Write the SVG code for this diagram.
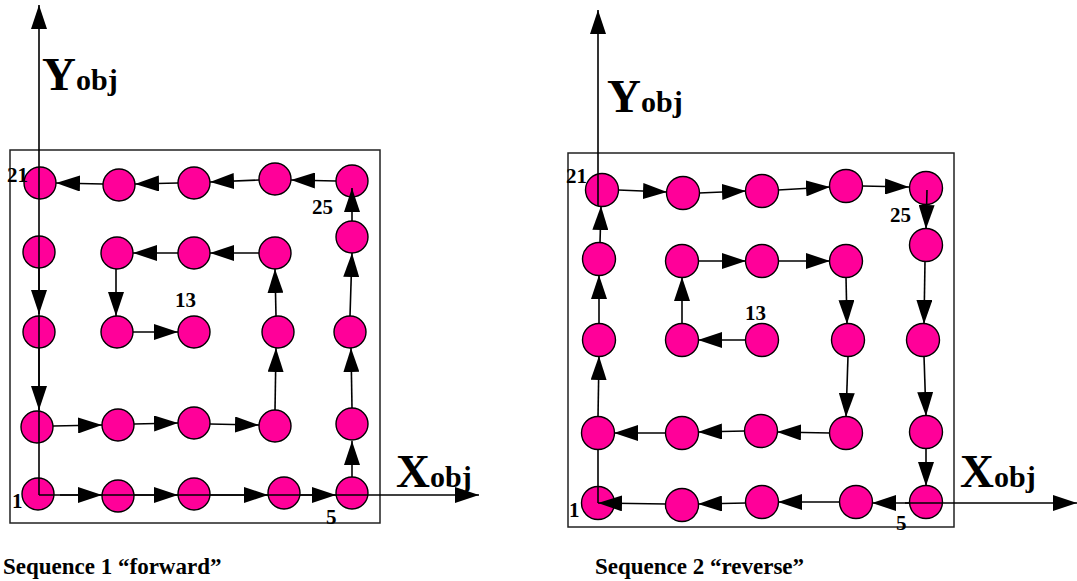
<svg xmlns="http://www.w3.org/2000/svg" width="1077" height="581" viewBox="0 0 1077 581">
<style>
.box{fill:none;stroke:#222;stroke-width:1.5}
.n{fill:#FF0099;stroke:#000;stroke-width:1.4}
.c{stroke:#000;stroke-width:1.6;fill:none}
.a{marker-end:url(#ah)}
.lbl{font-family:"Liberation Serif","Times New Roman",serif;font-weight:bold;font-size:21px;fill:#000}
.ax{font-family:"Liberation Serif","Times New Roman",serif;font-weight:bold;fill:#000}
.cap{font-family:"Liberation Serif","Times New Roman",serif;font-weight:bold;font-size:23px;fill:#000}
</style>
<defs>
<marker id="ah" viewBox="0 0 24 16" refX="24" refY="8" markerWidth="24" markerHeight="16" markerUnits="userSpaceOnUse" orient="auto">
<path d="M0,0 L24,8 L0,16 z" fill="#000"/>
</marker>
</defs>
<rect class="box" x="10" y="150" width="370" height="373"/>
<rect class="box" x="568" y="153" width="386" height="374"/>
<g id="left-nodes">
<g id="L1"><circle class="n" cx="38" cy="494" r="16"/></g>
<g id="L2"><circle class="n" cx="118" cy="496" r="16"/></g>
<g id="L3"><circle class="n" cx="194" cy="494" r="16"/></g>
<g id="L4"><circle class="n" cx="284" cy="493" r="16"/></g>
<g id="L5"><circle class="n" cx="352" cy="493" r="16"/></g>
<g id="L6"><circle class="n" cx="37" cy="427" r="16"/></g>
<g id="L7"><circle class="n" cx="118" cy="425" r="16"/></g>
<g id="L8"><circle class="n" cx="194" cy="423" r="16"/></g>
<g id="L9"><circle class="n" cx="275" cy="426" r="16"/></g>
<g id="L10"><circle class="n" cx="352" cy="424" r="16"/></g>
<g id="L11"><circle class="n" cx="39" cy="332" r="16"/></g>
<g id="L12"><circle class="n" cx="117" cy="332" r="16"/></g>
<g id="L13"><circle class="n" cx="194" cy="332" r="16"/></g>
<g id="L14"><circle class="n" cx="278" cy="332" r="16"/></g>
<g id="L15"><circle class="n" cx="350" cy="332" r="16"/></g>
<g id="L16"><circle class="n" cx="39" cy="252" r="16"/></g>
<g id="L17"><circle class="n" cx="117" cy="253" r="16"/></g>
<g id="L18"><circle class="n" cx="194" cy="253" r="16"/></g>
<g id="L19"><circle class="n" cx="275" cy="253" r="16"/></g>
<g id="L20"><circle class="n" cx="352" cy="237" r="16"/></g>
<g id="L21"><circle class="n" cx="40" cy="183" r="16"/></g>
<g id="L22"><circle class="n" cx="119" cy="185" r="16"/></g>
<g id="L23"><circle class="n" cx="194" cy="183" r="16"/></g>
<g id="L24"><circle class="n" cx="275" cy="179" r="16"/></g>
<g id="L25"><circle class="n" cx="352" cy="181" r="16"/></g>
</g>
<g id="right-nodes">
<g id="R1"><circle class="n" cx="598" cy="503" r="16.5"/></g>
<g id="R2"><circle class="n" cx="682" cy="505" r="16.5"/></g>
<g id="R3"><circle class="n" cx="762" cy="502" r="16.5"/></g>
<g id="R4"><circle class="n" cx="856" cy="502" r="16.5"/></g>
<g id="R5"><circle class="n" cx="926" cy="502" r="16.5"/></g>
<g id="R6"><circle class="n" cx="598" cy="433" r="16.5"/></g>
<g id="R7"><circle class="n" cx="682" cy="433" r="16.5"/></g>
<g id="R8"><circle class="n" cx="761" cy="431" r="16.5"/></g>
<g id="R9"><circle class="n" cx="846" cy="433" r="16.5"/></g>
<g id="R10"><circle class="n" cx="926" cy="432" r="16.5"/></g>
<g id="R11"><circle class="n" cx="599" cy="340" r="16.5"/></g>
<g id="R12"><circle class="n" cx="682" cy="340" r="16.5"/></g>
<g id="R13"><circle class="n" cx="762" cy="340" r="16.5"/></g>
<g id="R14"><circle class="n" cx="848" cy="340" r="16.5"/></g>
<g id="R15"><circle class="n" cx="923" cy="340" r="16.5"/></g>
<g id="R16"><circle class="n" cx="599" cy="259" r="16.5"/></g>
<g id="R17"><circle class="n" cx="682" cy="261" r="16.5"/></g>
<g id="R18"><circle class="n" cx="762" cy="261" r="16.5"/></g>
<g id="R19"><circle class="n" cx="846" cy="261" r="16.5"/></g>
<g id="R20"><circle class="n" cx="926" cy="245" r="16.5"/></g>
<g id="R21"><circle class="n" cx="602" cy="190" r="16.5"/></g>
<g id="R22"><circle class="n" cx="683" cy="193" r="16.5"/></g>
<g id="R23"><circle class="n" cx="762" cy="191" r="16.5"/></g>
<g id="R24"><circle class="n" cx="846" cy="186" r="16.5"/></g>
<g id="R25"><circle class="n" cx="926" cy="188" r="16.5"/></g>
</g>
<g id="connectors">
<line class="c a" x1="39" y1="495" x2="39" y2="5"/>
<line class="c a" x1="39" y1="495" x2="479" y2="495"/>
<line class="c a" x1="60" y1="495" x2="102" y2="495"/>
<line class="c a" x1="134" y1="495" x2="178" y2="495"/>
<line class="c a" x1="210" y1="495" x2="268" y2="495"/>
<line class="c a" x1="300" y1="495" x2="336" y2="495"/>
<line class="c a" x1="352" y1="477" x2="352" y2="441"/>
<line class="c a" x1="352" y1="408" x2="351" y2="348"/>
<line class="c a" x1="350" y1="316" x2="352" y2="253"/>
<line class="c a" x1="352" y1="221" x2="352" y2="188"/>
<line class="c a" x1="336" y1="181" x2="291" y2="180"/>
<line class="c a" x1="259" y1="180" x2="210" y2="182"/>
<line class="c a" x1="178" y1="183" x2="135" y2="184"/>
<line class="c a" x1="103" y1="184" x2="56" y2="183"/>
<line class="c a" x1="39" y1="268" x2="39" y2="314"/>
<line class="c a" x1="39" y1="348" x2="39" y2="410"/>
<line class="c a" x1="53" y1="426" x2="102" y2="425"/>
<line class="c a" x1="134" y1="424" x2="178" y2="423"/>
<line class="c a" x1="210" y1="424" x2="259" y2="425"/>
<line class="c a" x1="275" y1="410" x2="276" y2="348"/>
<line class="c a" x1="276" y1="316" x2="275" y2="269"/>
<line class="c a" x1="259" y1="253" x2="210" y2="253"/>
<line class="c a" x1="178" y1="253" x2="133" y2="253"/>
<line class="c a" x1="116" y1="269" x2="116" y2="316"/>
<line class="c a" x1="133" y1="332" x2="178" y2="332"/>
<line class="c a" x1="598" y1="206" x2="598" y2="10"/>
<line class="c a" x1="905" y1="503" x2="1077" y2="503"/>
<line class="c a" x1="746" y1="340" x2="698" y2="340"/>
<line class="c a" x1="682" y1="324" x2="682" y2="277"/>
<line class="c a" x1="698" y1="261" x2="746" y2="261"/>
<line class="c a" x1="778" y1="261" x2="830" y2="261"/>
<line class="c a" x1="846" y1="277" x2="847" y2="324"/>
<line class="c a" x1="848" y1="356" x2="846" y2="417"/>
<line class="c a" x1="830" y1="433" x2="777" y2="432"/>
<line class="c a" x1="745" y1="431" x2="698" y2="432"/>
<line class="c a" x1="666" y1="433" x2="614" y2="433"/>
<line class="c a" x1="598" y1="417" x2="599" y2="356"/>
<line class="c a" x1="599" y1="324" x2="599" y2="275"/>
<line class="c a" x1="600" y1="243" x2="601" y2="206"/>
<line class="c a" x1="618" y1="190" x2="667" y2="192"/>
<line class="c a" x1="699" y1="193" x2="746" y2="191"/>
<line class="c a" x1="778" y1="190" x2="830" y2="187"/>
<line class="c a" x1="862" y1="186" x2="909" y2="187"/>
<line class="c a" x1="927" y1="190" x2="926" y2="229"/>
<line class="c a" x1="925" y1="261" x2="924" y2="324"/>
<line class="c a" x1="924" y1="356" x2="926" y2="416"/>
<line class="c a" x1="926" y1="448" x2="926" y2="486"/>
<line class="c a" x1="910" y1="503" x2="872" y2="503"/>
<line class="c a" x1="840" y1="502" x2="778" y2="502"/>
<line class="c a" x1="746" y1="503" x2="698" y2="504"/>
<line class="c a" x1="666" y1="504" x2="598" y2="503"/>
<line class="c" x1="598" y1="449" x2="598" y2="503"/>
</g>
<g id="labels">
<text class="lbl" x="7" y="182">21</text>
<text class="lbl" x="312" y="214">25</text>
<text class="lbl" x="175" y="307">13</text>
<text class="lbl" x="12" y="508">1</text>
<text class="lbl" x="326" y="524">5</text>
<text class="lbl" x="566" y="183">21</text>
<text class="lbl" x="890" y="222">25</text>
<text class="lbl" x="745" y="320">13</text>
<text class="lbl" x="569" y="517">1</text>
<text class="lbl" x="896" y="530">5</text>
<text class="ax" x="42" y="90"><tspan font-size="47">Y</tspan><tspan font-size="30">obj</tspan></text>
<text class="ax" x="396" y="487"><tspan font-size="47">X</tspan><tspan font-size="30">obj</tspan></text>
<text class="ax" x="607" y="112"><tspan font-size="47">Y</tspan><tspan font-size="30">obj</tspan></text>
<text class="ax" x="960" y="487"><tspan font-size="47">X</tspan><tspan font-size="30">obj</tspan></text>
<text class="cap" x="3" y="574">Sequence 1 “forward”</text>
<text class="cap" x="595" y="574">Sequence 2 “reverse”</text>
</g>
</svg>
